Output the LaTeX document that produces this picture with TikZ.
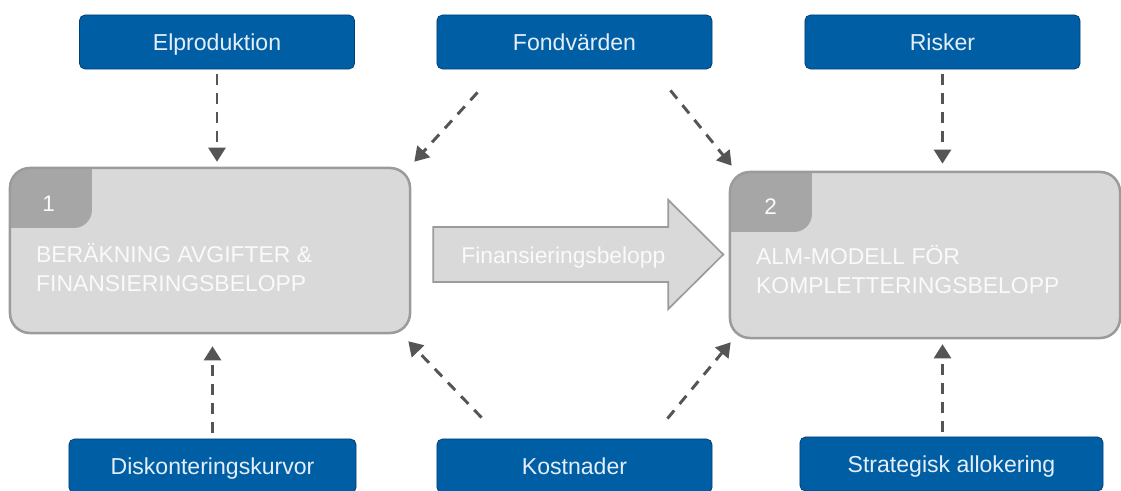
\documentclass[tikz,border=0pt]{standalone}
\usepackage{fontspec}
\setmainfont{Liberation Sans}
\definecolor{inputblue}{RGB}{0,94,165}
\definecolor{inputedge}{RGB}{0,64,120}
\definecolor{inputtext}{RGB}{228,238,248}
\definecolor{panelgray}{RGB}{217,217,217}
\definecolor{paneledge}{RGB}{155,155,155}
\definecolor{tabgray}{RGB}{166,166,166}
\definecolor{paneltext}{RGB}{250,250,250}
\definecolor{dashgray}{RGB}{85,85,85}
\usetikzlibrary{arrows.meta,positioning,calc}

\begin{document}
\begin{tikzpicture}[x=0.025cm,y=-0.025cm,
      input/.style={draw=inputedge,fill=inputblue,rounded corners=4pt,line width=0.6pt,
                    minimum width=6.875cm,minimum height=1.35cm,
                    text height=11.6pt,text depth=0pt,
                    font=\fontsize{16.4}{19}\selectfont,text=inputtext},
      panel/.style={draw=paneledge,fill=panelgray,rounded corners=0.5cm,line width=1.8pt,
                    minimum width=10cm,minimum height=4.125cm,
                    path picture={\fill[tabgray,rounded corners=0.45cm]
                      ([shift={(-1cm,1cm)}]path picture bounding box.north west) rectangle
                      ([shift={(2.05cm,-1.5cm)}]path picture bounding box.north west);}},
      tabnum/.style={font=\fontsize{16}{19}\selectfont,text=paneltext,inner sep=0pt},
      title/.style={font=\fontsize{16.3}{20.6}\selectfont,text=paneltext,align=left,
                    inner sep=0pt,anchor=west},
      flow/.style={draw=paneledge,fill=panelgray,line width=1.2pt,line join=miter},
      flowtext/.style={font=\fontsize{16.2}{19}\selectfont,text=paneltext,inner sep=0pt,
                       text height=11.6pt,text depth=0pt},
      dep/.style={draw=dashgray,line width=2.1pt,dash pattern=on 7.5pt off 6pt,
                  -{Triangle[width=12pt,length=10pt]}}]
  \useasboundingbox (0,0) rectangle (1121,491);

  \node[input] (el) at (217,42) {Elproduktion};
  \node[input] (fv) at (574.5,42) {Fondvärden};
  \node[input] (ri) at (942.5,42) {Risker};
  \node[input,minimum width=7.175cm] (dk) at (212.5,466) {Diskonteringskurvor};
  \node[input] (ko) at (574.5,466) {Kostnader};
  \node[input,minimum width=7.575cm] (sa) at (951.5,464) {Strategisk allokering};

  \node[panel] (calc) at (210,250.5) {};
  \node[tabnum] (calcnum) at ([shift={(1cm,-0.92cm)}]calc.north west) {1};
  \node[title] (calctitle) at ([shift={(0.68cm,-2.52cm)}]calc.north west)
    {BERÄKNING AVGIFTER \&\\FINANSIERINGSBELOPP};

  \node[panel,minimum width=9.75cm,minimum height=4.15cm] (alm) at (925,255) {};
  \node[tabnum] (almnum) at ([shift={(1.05cm,-0.9cm)}]alm.north west) {2};
  \node[title] (almtitle) at ([shift={(0.68cm,-2.48cm)}]alm.north west)
    {ALM-MODELL FÖR\\KOMPLETTERINGSBELOPP};

  \draw[flow] ($(calc.east)+(22,-23.5)$) -- ++(235,0) -- ++(0,-27) -- ++(55,54.5)
    -- ++(-55,54.5) -- ++(0,-27) -- ++(-235,0) -- cycle;
  \node[flowtext] (fin) at ($(calc.east)+(152,5)$) {Finansieringsbelopp};

  \draw[dep,shorten <=3.5pt,shorten >=3.5pt] (el.south) -- (el.south |- calc.north);
  \draw[dep] ($(fv.south west)+(41,23)$) -- ($(calc.north east)+(3,-5)$);
  \draw[dep] ($(fv.south east)+(-42,21)$) -- ($(alm.north west)+(3,-5)$);
  \draw[dep,shorten <=3.5pt,shorten >=5pt] (ri.south) -- (ri.south |- alm.north);
  \draw[dep,shorten <=4.3pt,shorten >=8.5pt] (dk.north) -- (dk.north |- calc.south);
  \draw[dep] ($(ko.north west)+(45,-21)$) -- ($(calc.south east)+(-3,7)$);
  \draw[dep] ($(ko.north east)+(-45,-20)$) -- ($(alm.south west)+(2,3)$);
  \draw[dep,shorten <=3.5pt,shorten >=3.5pt] (sa.north -| ri.south) -- (ri.south |- alm.south);
\end{tikzpicture}
\end{document}
